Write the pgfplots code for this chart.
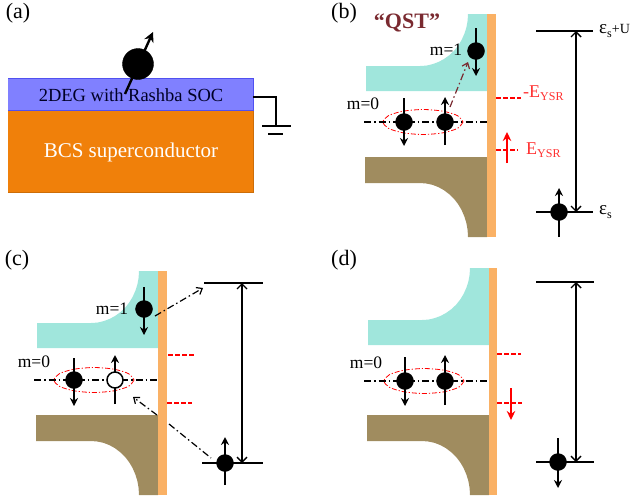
\documentclass[border=0pt]{standalone}
\usepackage{fontspec}
\setmainfont{Liberation Serif}
\usepackage{pgfplots}
\pgfplotsset{compat=1.18}
\usepackage{pgfplotstable}
\usetikzlibrary{arrows.meta}

\definecolor{band1}{HTML}{A0E6DC}
\definecolor{band2}{HTML}{A08C5F}
\definecolor{barc}{HTML}{FAB165}
\definecolor{deg}{HTML}{8080FF}
\definecolor{degedge}{HTML}{5050F0}
\definecolor{bcs}{HTML}{F0800A}
\definecolor{qst}{HTML}{7A2A30}
\definecolor{ysr}{HTML}{FF3030}

% shapes relative to the top / bottom of the orange bar
\pgfplotstableread{
x y
-121 52
-67 52
-60.7 51.6
-54.6 50.2
-48.6 48
-43 45
-37.8 41.3
-33 36.8
-28.9 31.7
-25.4 26
-22.7 19.9
-20.6 13.5
-19.4 6.8
-19 0
0 0
0 77
-121 77
}\cyantab
\pgfplotstableread{
x y
-122 -80
0 -80
0 0
-19 0
-19.4 -7
-20.6 -14
-22.7 -20.7
-25.4 -27
-28.9 -32.9
-33 -38.2
-37.8 -42.8
-43 -46.8
-48.6 -49.9
-54.6 -52.2
-60.7 -53.5
-67 -54
-122 -54
}\browntab
\pgfplotstableread{
x y
40 0
34.6 6.3
20 10.8
0 12.5
-20 10.8
-34.6 6.3
-40 0
-34.6 -6.3
-20 -10.8
0 -12.5
20 -10.8
34.6 -6.3
40 0
}\elltab

\tikzset{
  spin/.style={line width=2pt,black,-{Stealth[length=8pt,width=8pt]}},
  level/.style={line width=1.8pt,black},
  gap/.style={line width=1.4pt,black,{Straight Barb[length=5pt,width=10pt]}-{Straight Barb[length=5pt,width=10pt]}},
  dd/.style={line width=1.2pt,black,dash pattern=on 7pt off 3pt on 1.5pt off 3pt},
  ddarrow/.style={dd,-{Straight Barb[length=5pt,width=8pt]}},
  pair/.style={line width=0.8pt,red,dash pattern=on 5pt off 2pt on 1.2pt off 2pt,smooth},
  rdash/.style={line width=1.8pt,red,dash pattern=on 5pt off 2pt},
  redarrow/.style={line width=2.4pt,red,-{Stealth[length=9pt,width=8.5pt]}},
  ball/.style={only marks,mark=*,mark size=8.5pt,mark options={fill=black,draw=black}},
  txt/.style={inner sep=0pt,font=\fontsize{17.5}{17.5}\selectfont},
  plab/.style={inner sep=0pt,font=\fontsize{22}{22}\selectfont},
}
\newcommand{\Eysr}{E\raisebox{-2.5pt}{\fontsize{12}{12}\selectfont YSR}}
\newcommand{\eps}{{\fontsize{19}{19}\selectfont ε}\raisebox{-4pt}{\fontsize{12}{12}\selectfont s}}

\begin{document}
\begin{tikzpicture}
\begin{axis}[
    width=631pt,
    height=499pt,
    scale only axis,
    hide axis,
    clip=false,
    xmin=0,xmax=631,
    ymin=0,ymax=499,
    y dir=reverse,
    ]
% keeps the whole frame in the page
\addplot[draw=none] coordinates {(0,0) (631,0) (631,499) (0,499)};
% panel (a)
\addplot[fill=bcs,draw=bcs!85!black] coordinates {(8,110) (253,110) (253,192) (8,192)};
\addplot[fill=deg,draw=degedge,line width=0.7pt] coordinates {(8,78) (253,78) (253,110) (8,110)};
\addplot[level,line width=1.2pt] coordinates {(253,97) (276,97) (276,126)};
\addplot[level,line width=1.2pt] coordinates {(262,126) (291,126)};
\addplot[level,line width=1.2pt] coordinates {(268,134) (283,134)};
\node[inner sep=0pt,text=black!85!blue,font=\fontsize{18.5}{18.5}\selectfont] at (axis cs:131,95) {2DEG with Rashba SOC};
\node[inner sep=0pt,text=white,font=\fontsize{21}{21}\selectfont] at (axis cs:131,152) {BCS superconductor};
\addplot[line width=2.4pt,black,-{Stealth[length=10pt,width=10pt]}] coordinates {(125,94) (153,32)};
\addplot[ball,mark size=15.5pt] coordinates {(138,64)};

% panel (b)
\addplot[fill=band1,draw=none] table[x expr=\thisrow{x}+487,y expr=\thisrow{y}+14] {\cyantab};
\addplot[fill=band2,draw=none] table[x expr=\thisrow{x}+487,y expr=\thisrow{y}+237] {\browntab};
\addplot[fill=barc,draw=none] coordinates {(487,14) (496,14) (496,237) (487,237)};
\addplot[dd] coordinates {(364,122) (487,122)};
\addplot[pair] table[x expr=\thisrow{x}+423,y expr=\thisrow{y}+122] {\elltab};
\addplot[spin] coordinates {(476,28) (476,76)};
\addplot[spin] coordinates {(404,98) (404,146)};
\addplot[spin] coordinates {(445,145) (445,97)};
\addplot[spin] coordinates {(559,237) (559,188)};
\addplot[ball] coordinates {(476,51) (404,122) (445,122) (559,212)};
\addplot[ddarrow,qst] coordinates {(450,107) (468,62)};
\addplot[rdash] coordinates {(496,98) (521,98)};
\addplot[rdash] coordinates {(496,150) (518,150)};
\addplot[redarrow] coordinates {(507,163) (507,132)};
\addplot[level] coordinates {(536,31) (593,31)};
\addplot[level] coordinates {(536,212) (593,212)};
\addplot[gap] coordinates {(576,31) (576,212)};

% panel (c)
\addplot[fill=band1,draw=none] table[x expr=\thisrow{x}+158,y expr=\thisrow{y}+271] {\cyantab};
\addplot[fill=band2,draw=none] table[x expr=\thisrow{x}+158,y expr=\thisrow{y}+495] {\browntab};
\addplot[fill=barc,draw=none] coordinates {(158,271) (167,271) (167,495) (158,495)};
\addplot[dd] coordinates {(34,380) (158,380)};
\addplot[pair] table[x expr=\thisrow{x}+94,y expr=\thisrow{y}+380] {\elltab};
\addplot[spin] coordinates {(144,287) (144,335)};
\addplot[spin] coordinates {(74,358) (74,406)};
\addplot[spin] coordinates {(115,404) (115,355)};
\addplot[spin] coordinates {(225,485) (225,437)};
\addplot[ball] coordinates {(144,309) (74,380) (225,463)};
\addplot[only marks,mark=*,mark size=8pt,mark options={fill=white,draw=black,line width=1.5pt}] coordinates {(115,380)};
\addplot[rdash] coordinates {(168,355) (195,355)};
\addplot[rdash] coordinates {(167,403) (192,403)};
\addplot[ddarrow] coordinates {(155,316) (203,288)};
\addplot[ddarrow] coordinates {(157,415) (133,397)};
\addplot[dd] coordinates {(169,424) (211,458)};
\addplot[level] coordinates {(204,283) (263,283)};
\addplot[level] coordinates {(202,463) (263,463)};
\addplot[gap] coordinates {(242,283) (242,463)};

% panel (d)
\addplot[fill=band1,draw=none] table[x expr=\thisrow{x}+489,y expr=\thisrow{y}+268] {\cyantab};
\addplot[fill=band2,draw=none] table[x expr=\thisrow{x}+489,y expr=\thisrow{y}+495] {\browntab};
\addplot[fill=barc,draw=none] coordinates {(489,268) (497,268) (497,495) (489,495)};
\addplot[dd] coordinates {(364,381) (488,381)};
\addplot[pair] table[x expr=\thisrow{x}+424,y expr=\thisrow{y}+381] {\elltab};
\addplot[spin] coordinates {(405,357) (405,406)};
\addplot[spin] coordinates {(445,405) (445,355)};
\addplot[spin] coordinates {(558,438) (558,488)};
\addplot[ball] coordinates {(405,381) (445,381) (558,462)};
\addplot[rdash] coordinates {(497,354) (521,354)};
\addplot[rdash] coordinates {(497,403) (522,403)};
\addplot[redarrow] coordinates {(511,388) (511,420)};
\addplot[level] coordinates {(536,282) (594,282)};
\addplot[level] coordinates {(536,462) (594,462)};
\addplot[gap] coordinates {(576,282) (576,462)};

% text
\node[plab] at (axis cs:18,13) {(a)};
\node[plab] at (axis cs:344,13) {(b)};
\node[plab] at (axis cs:17,260) {(c)};
\node[plab] at (axis cs:344,260) {(d)};
\node[inner sep=0pt,text=qst,font=\bfseries\fontsize{22}{22}\selectfont] at (axis cs:407,23) {“QST”};
\node[txt] at (axis cs:446,50) {m=1};
\node[txt] at (axis cs:363,104) {m=0};
\node[txt] at (axis cs:112,309) {m=1};
\node[txt] at (axis cs:34,362) {m=0};
\node[txt] at (axis cs:366,363) {m=0};
\node[inner sep=0pt,text=ysr,anchor=west,font=\fontsize{18}{18}\selectfont] at (axis cs:523,93) {-\Eysr};
\node[inner sep=0pt,text=ysr,anchor=west,font=\fontsize{18}{18}\selectfont] at (axis cs:526,150) {\Eysr};
\node[inner sep=0pt,anchor=west,font=\fontsize{14}{14}\selectfont] at (axis cs:599,31) {\eps+U};
\node[inner sep=0pt,anchor=west,font=\fontsize{14}{14}\selectfont] at (axis cs:599,212) {\eps};
\end{axis}
\end{tikzpicture}
\end{document}
